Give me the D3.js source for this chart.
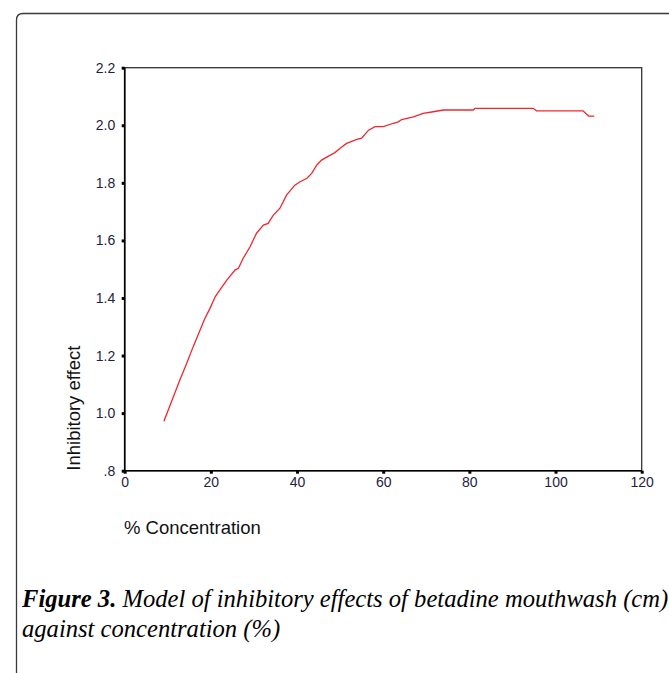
<!DOCTYPE html>
<html>
<head>
<meta charset="utf-8">
<script src="https://cdn.jsdelivr.net/npm/d3@7"></script>
<style>
    body { margin: 0; background: #fff; }
    .axis text { font-family: "Liberation Sans", Arial, sans-serif; font-size: 14px; fill: #1e2240; }
    .axis path { display: none; }
    .axis line { stroke: #000; stroke-width: 3; }
    .label { font-family: "Liberation Sans", Arial, sans-serif; font-size: 18.5px; fill: #111; }
    .caption { font-family: "Liberation Serif", "Times New Roman", serif; font-size: 24.6px; font-style: italic; fill: #000; }
</style>
</head>
<body>
<div id="chart"></div>
<script>
// data
const concentration = [9.1, 10.4, 11.3, 12.8, 14.4, 15.9, 17.5, 18.6, 19.8, 21.0, 22.1, 23.7, 25.6, 26.4, 27.5,
    29.1, 30.6, 32.2, 33.3, 34.5, 36.0, 37.6, 39.5, 40.7, 42.3, 43.4, 44.6, 45.7, 47.3, 48.8, 50.0, 51.5,
    53.9, 55.0, 56.6, 58.1, 60.0, 62.4, 63.5, 64.3, 67.0, 69.3, 71.6, 74.0, 80.9, 81.3, 94.8, 95.6, 106.4,
    107.2, 107.7, 109.0];
const effect = [0.972, 1.022, 1.057, 1.115, 1.173, 1.231, 1.289, 1.329, 1.364, 1.404, 1.428, 1.462, 1.497, 1.503, 1.538,
    1.578, 1.625, 1.653, 1.659, 1.688, 1.711, 1.758, 1.792, 1.804, 1.816, 1.833, 1.862, 1.879, 1.893, 1.905, 1.920, 1.937,
    1.951, 1.955, 1.983, 1.995, 1.995, 2.007, 2.012, 2.020, 2.029, 2.041, 2.047, 2.053, 2.053, 2.059, 2.059, 2.050, 2.050,
    2.038, 2.032, 2.032];

const xTicks = [0, 20, 40, 60, 80, 100, 120];
const yTicks = [0.8, 1.0, 1.2, 1.4, 1.6, 1.8, 2.0, 2.2];
const yTickLabels = [".8", "1.0", "1.2", "1.4", "1.6", "1.8", "2.0", "2.2"];

const svgWidth = 669,
    svgHeight = 673,
    margin = { top: 67.7, right: 27.3, bottom: 202.3, left: 124.7 },
    width = svgWidth - margin.left - margin.right,
    height = svgHeight - margin.top - margin.bottom;

let svgRoot = d3.select("#chart").append("svg")
    .attr("width", svgWidth)
    .attr("height", svgHeight);

// outer frame, runs off the right and bottom edges
svgRoot.append("path")
    .attr("d", "M16.5,700 L16.5,20 Q16.5,13.5 23,13.5 L700,13.5")
    .attr("fill", "none")
    .attr("stroke", "#3a3a3a")
    .attr("stroke-width", 1.3);

let svg = svgRoot.append("g")
    .attr("transform", `translate(${margin.left},${margin.top})`);

let xScale = d3.scaleLinear().domain([0, 120]).range([0, width]);
let yScale = d3.scaleLinear().domain([0.8, 2.2]).range([height, 0]);

// box
svg.append("rect")
    .attr("width", width)
    .attr("height", height)
    .attr("fill", "none")
    .attr("stroke", "#333")
    .attr("stroke-width", 1.3);

// axes
svg.append("g")
    .attr("class", "axis")
    .attr("transform", `translate(0,${height})`)
    .call(d3.axisBottom(xScale).tickValues(xTicks).tickSize(3).tickPadding(3.5));
svg.append("g")
    .attr("class", "axis")
    .call(d3.axisLeft(yScale).tickValues(yTicks).tickSize(3).tickPadding(6.5)
        .tickFormat((d, i) => yTickLabels[i]));

// thicker left and bottom axis lines
svg.append("line").attr("x1", 0).attr("x2", 0).attr("y1", 0).attr("y2", height)
    .attr("stroke", "#000").attr("stroke-width", 1.6);
svg.append("line").attr("x1", 0).attr("x2", width).attr("y1", height).attr("y2", height)
    .attr("stroke", "#000").attr("stroke-width", 1.6);

// axis labels
svg.append("text")
    .attr("class", "label")
    .attr("transform", `translate(-45.2, ${height}) rotate(-90)`)
    .text("Inhibitory effect");
svg.append("text")
    .attr("class", "label")
    .attr("x", -0.7)
    .attr("y", 534 - margin.top)
    .text("% Concentration");

// curve
let lineData = concentration.map((c, i) => ({ c: c, e: effect[i] }));
svg.append("path")
    .datum(lineData)
    .attr("fill", "none")
    .attr("stroke", "#f2262c")
    .attr("stroke-width", 1.3)
    .attr("d", d3.line().x((d) => xScale(d.c)).y((d) => yScale(d.e)));

// caption
let cap1 = svgRoot.append("text").attr("class", "caption").attr("x", 22).attr("y", 607);
cap1.append("tspan").attr("font-weight", "bold").text("Figure 3.");
cap1.append("tspan").text(" Model of inhibitory effects of betadine mouthwash (cm)");
svgRoot.append("text").attr("class", "caption").attr("x", 22).attr("y", 637)
    .text("against concentration (%)");
</script>
</body>
</html>
